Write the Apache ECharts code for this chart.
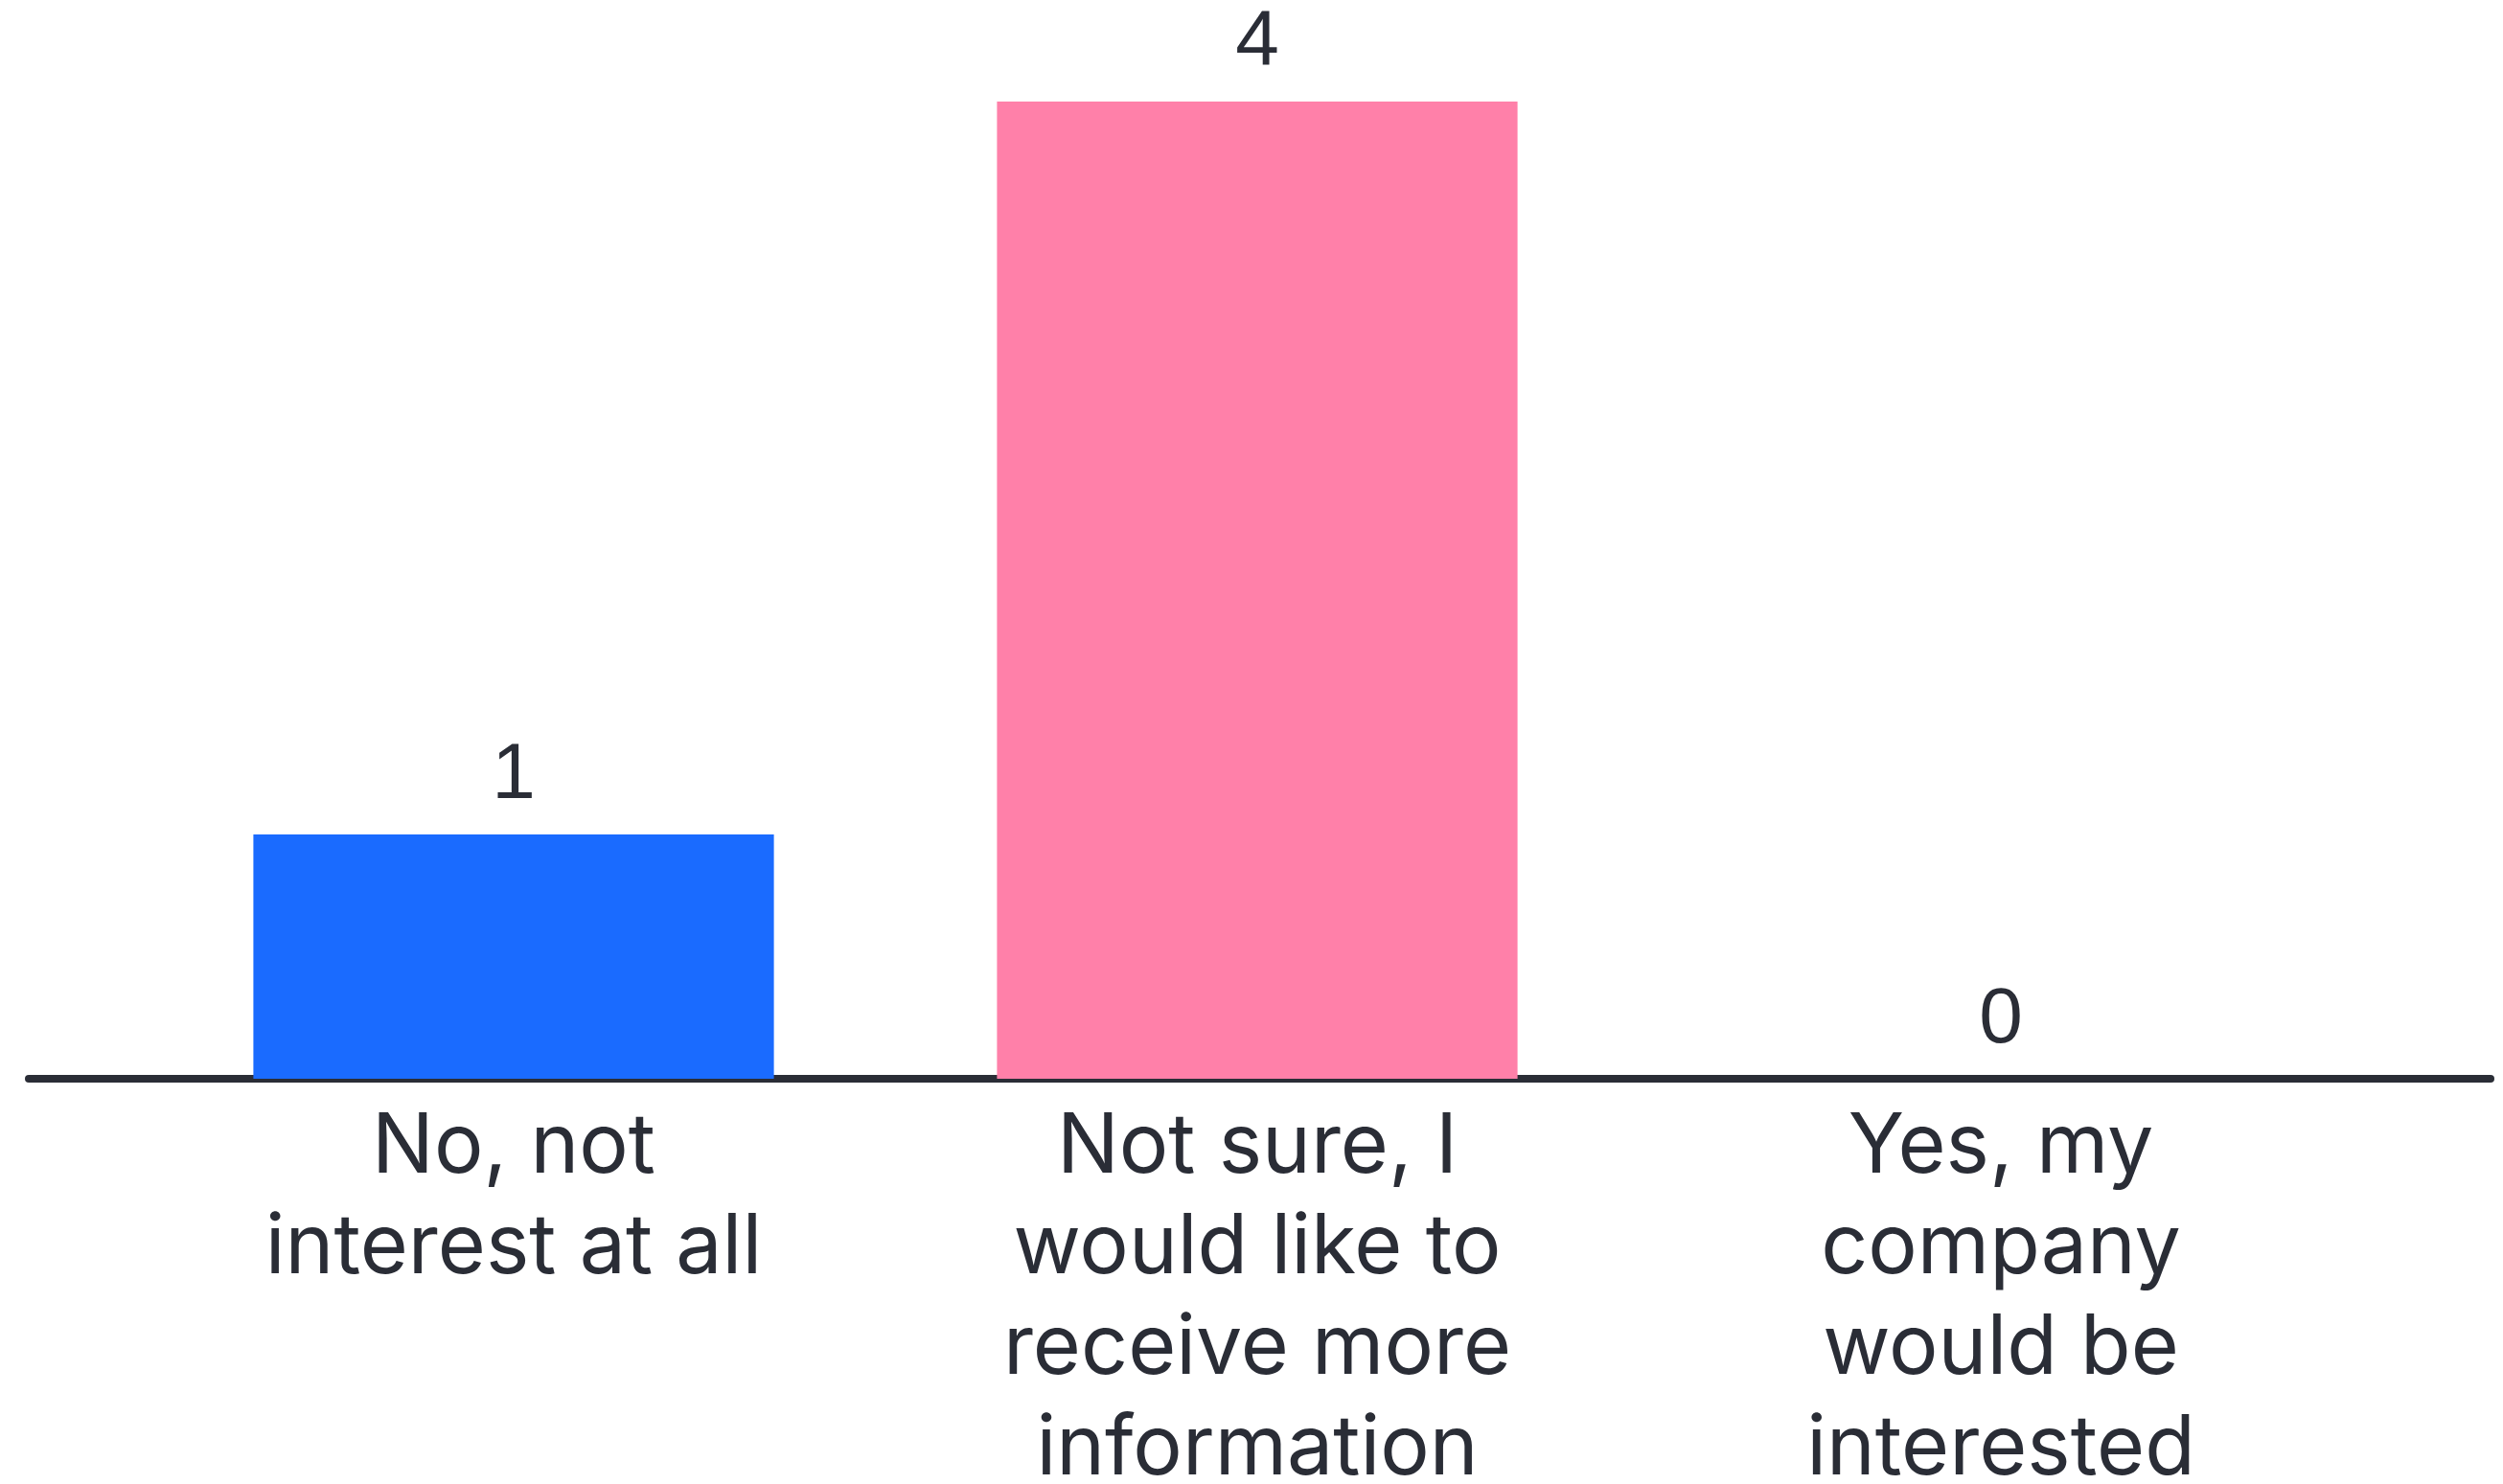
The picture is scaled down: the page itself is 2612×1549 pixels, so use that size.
<!DOCTYPE html>
<html>
<head>
<meta charset="utf-8">
<script src="https://cdn.jsdelivr.net/npm/echarts@6/dist/echarts.min.js"></script>
<style>
html,body{margin:0;padding:0;background:#fff;}
#chart{width:2612px;height:1549px;}
</style>
</head>
<body>
<div id="chart"></div>
<script>
var categories = [
  "No, not\ninterest at all",
  "Not sure, I\nwould like to\nreceive more\ninformation",
  "Yes, my\ncompany\nwould be\ninterested"
];
var values = [1, 4, 0];
var barColors = ["#1a6bff", "#ff80a9", "#7f8c9a"];

var chart = echarts.init(document.getElementById('chart'));
chart.setOption({
  backgroundColor: '#ffffff',
  animation: false,
  grid: [
    { left: 148, right: 136, top: 106, bottom: 423, outerBoundsMode: 'none', containLabel: false },
    { left: 30, right: 13, top: 106, bottom: 423, outerBoundsMode: 'none', containLabel: false }
  ],
  xAxis: [
    {
      type: 'category',
      gridIndex: 0,
      data: categories,
      axisLine: { show: false },
      axisTick: { show: false },
      axisLabel: {
        margin: 20,
        interval: 0,
        fontFamily: 'Inter',
        fontSize: 86,
        lineHeight: 105,
        color: '#2a2d36',
        align: 'center'
      }
    },
    {
      type: 'value',
      gridIndex: 1,
      min: 0,
      max: 1,
      axisLine: { show: true, lineStyle: { color: '#2a2d36', width: 8 } },
      axisTick: { show: false },
      axisLabel: { show: false },
      splitLine: { show: false }
    }
  ],
  yAxis: [
    { type: 'value', gridIndex: 0, min: 0, max: 4, show: false, splitLine: { show: false } },
    { type: 'value', gridIndex: 1, min: 0, max: 4, show: false, splitLine: { show: false } }
  ],
  series: [{
    type: 'bar',
    xAxisIndex: 0,
    yAxisIndex: 0,
    barCategoryGap: '30%',
    data: values.map(function (v, i) {
      return { value: v, itemStyle: { color: barColors[i] } };
    }),
    label: {
      show: true,
      position: 'top',
      distance: 20,
      fontFamily: 'Liberation Sans',
      fontSize: 82,
      color: '#2a2d36'
    }
  }]
});
</script>
</body>
</html>
